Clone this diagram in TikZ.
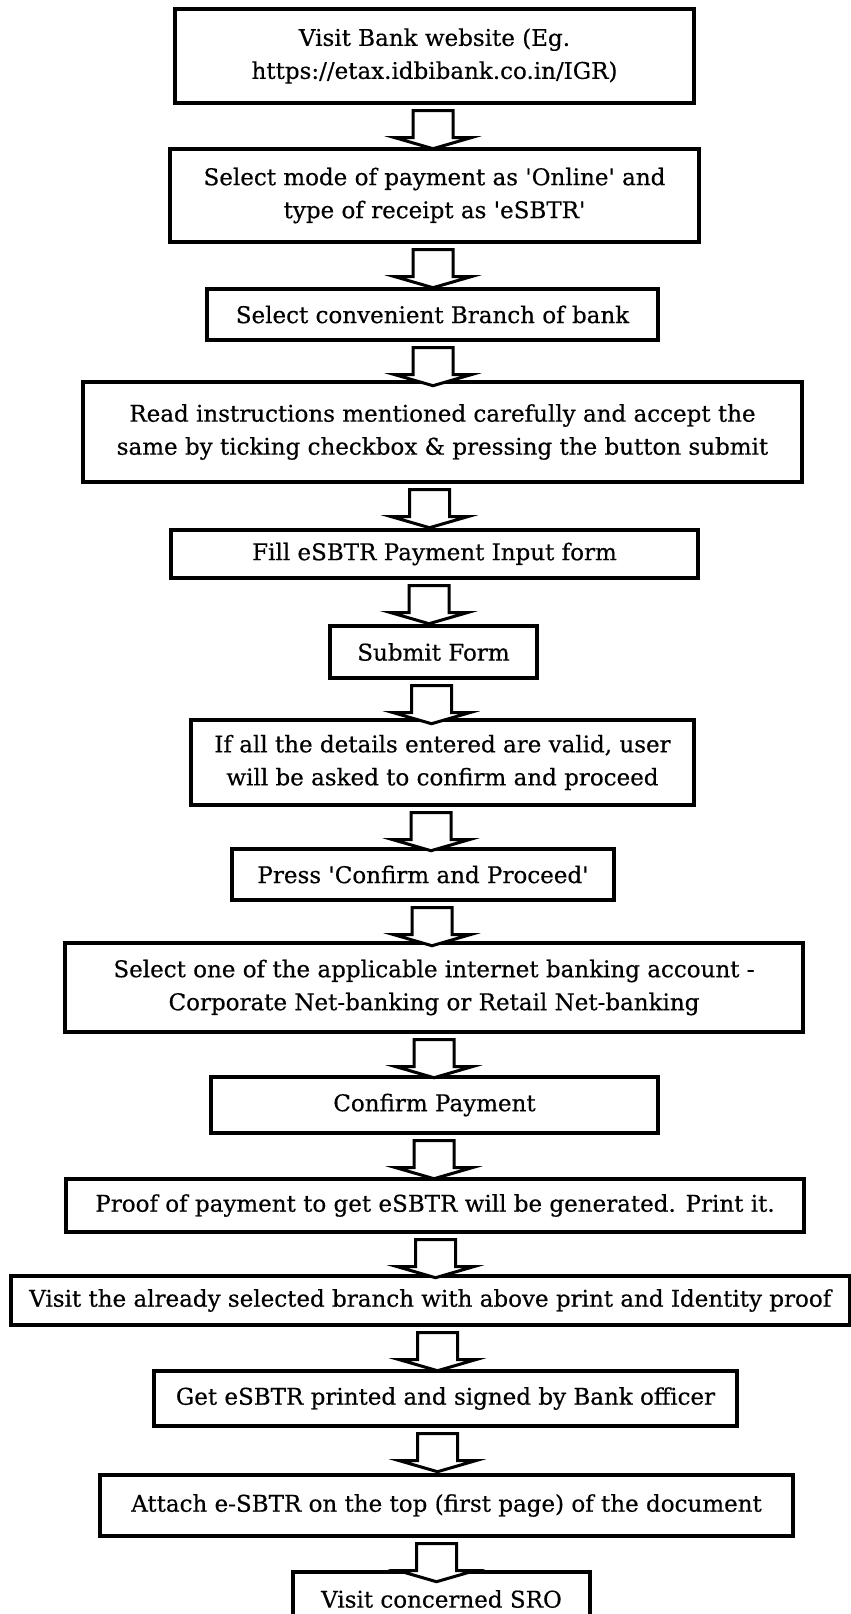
\documentclass[tikz,border=0pt]{standalone}
\usepackage{fontspec}
\newfontfamily\boxfont{DejaVu Serif}[FakeBold=0.5]
\usetikzlibrary{calc}
\tikzset{
  stepbox/.style={draw, line width=3.4pt, inner sep=0pt, align=center,
    font=\boxfont\fontsize{23}{33}\selectfont, text=black},
  blockarrow/.style={draw, line width=3pt, line join=miter, fill=white}
}
\newcommand{\bxbox}[6]{%
  \node[stepbox, minimum width={#4-#2}, minimum height={#5-#3}] (#1) at ({(#2+#4)/2},{-(#3+#5)/2}) {#6};}
\newcommand{\flowarrow}[3]{%
  \draw[blockarrow] let \p1=(#1.south), \p2=(#2.north) in
   ({#3-20},{\y1-6}) -- ({#3-20},{\y1-33}) -- ({#3-38},{\y1-33}) -- ({#3},{\y1-44})
   -- ({#3+38},{\y1-33}) -- ({#3+20},{\y1-33}) -- ({#3+20},{\y1-6}) -- cycle;}
\begin{document}
\begin{tikzpicture}[x=1pt,y=1pt]
\clip (0,0) rectangle (851,-1614);
\fill[white] (0,0) rectangle (851,-1614);
\bxbox{b1}{175}{9}{694}{103}{Visit Bank website (Eg.\\https://etax.idbibank.co.in/IGR)}
\bxbox{b2}{170}{149}{699}{242}{Select mode of payment as 'Online' and\\type of receipt as 'eSBTR'}
\bxbox{b3}{207}{289}{658}{340}{Select convenient Branch of bank}
\bxbox{b4}{83}{382}{802}{482}{Read instructions mentioned carefully and accept the\\same by ticking checkbox \& pressing the button submit}
\bxbox{b5}{171}{530}{698}{578}{Fill eSBTR Payment Input form}
\bxbox{b6}{330}{626}{537}{678}{Submit Form}
\bxbox{b7}{191}{720}{694}{805}{If all the details entered are valid, user\\will be asked to confirm and proceed}
\bxbox{b8}{232}{849}{614}{900}{Press 'Confirm and Proceed'}
\bxbox{b9}{65}{943}{803}{1032}{Select one of the applicable internet banking account -\\Corporate Net-banking or Retail Net-banking}
\bxbox{b10}{211}{1077}{658}{1133}{Confirm Payment}
\bxbox{b11}{66}{1179}{804}{1232}{Proof of payment to get eSBTR will be generated. Print it.}
\bxbox{b12}{11}{1276}{849.5}{1325}{Visit the already selected branch with above print and Identity proof}
\bxbox{b13}{154}{1371}{737}{1426}{Get eSBTR printed and signed by Bank officer}
\bxbox{b14}{100}{1475}{793}{1536}{Attach e-SBTR on the top (first page) of the document}
\bxbox{b15}{293}{1572}{590}{1626}{Visit concerned SRO}
\flowarrow{b1}{b2}{433}
\flowarrow{b2}{b3}{433}
\flowarrow{b3}{b4}{433}
\flowarrow{b4}{b5}{429.5}
\flowarrow{b5}{b6}{429}
\flowarrow{b6}{b7}{431.5}
\flowarrow{b7}{b8}{431}
\flowarrow{b8}{b9}{432}
\flowarrow{b9}{b10}{434}
\flowarrow{b10}{b11}{434}
\flowarrow{b11}{b12}{435.5}
\flowarrow{b12}{b13}{437.5}
\flowarrow{b13}{b14}{437.5}
\flowarrow{b14}{b15}{436.5}
\end{tikzpicture}
\end{document}
